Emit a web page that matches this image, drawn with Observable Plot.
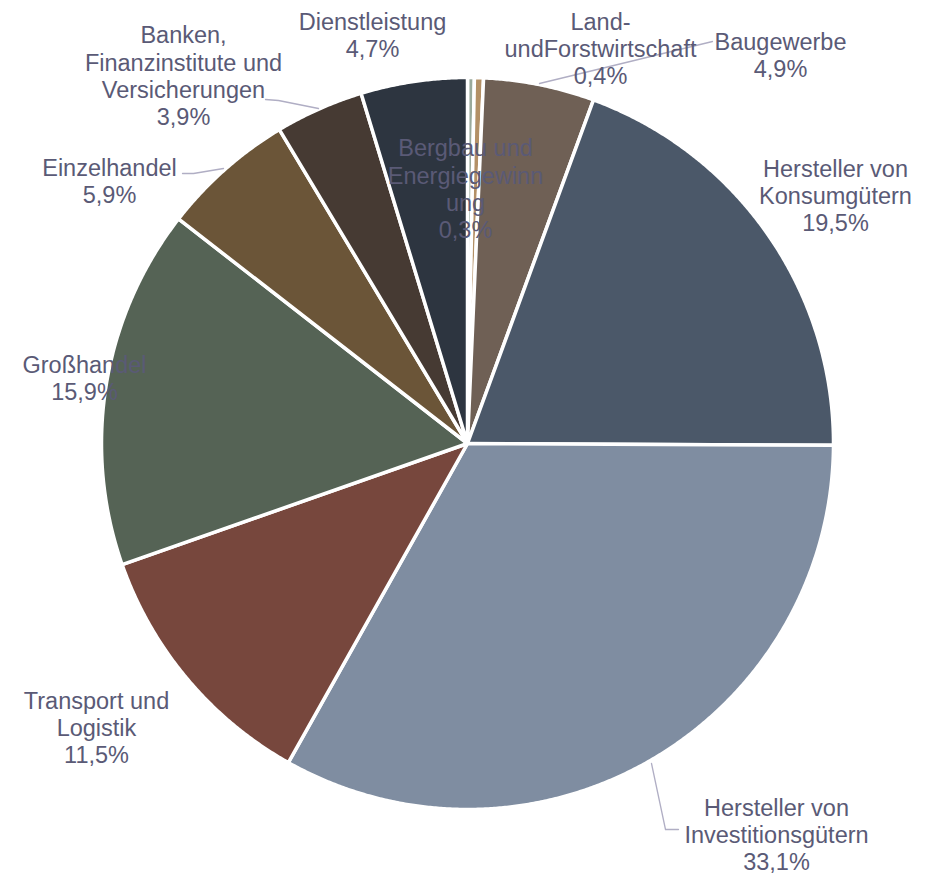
<!DOCTYPE html>
<html>
<head>
<meta charset="utf-8">
<script src="https://cdn.jsdelivr.net/npm/d3@7"></script>
<script src="https://cdn.jsdelivr.net/npm/@observablehq/plot@0.6"></script>
<style>
  html, body { margin: 0; padding: 0; background: #ffffff; }
  #chart { width: 926px; height: 875px; }
</style>
</head>
<body>
<div id="chart"></div>
<script>
// ---- data ----
const categories = [
  "Bergbau und Energiegewinnung",
  "Land- und Forstwirtschaft",
  "Baugewerbe",
  "Hersteller von Konsumgütern",
  "Hersteller von Investitionsgütern",
  "Transport und Logistik",
  "Großhandel",
  "Einzelhandel",
  "Banken, Finanzinstitute und Versicherungen",
  "Dienstleistung"
];
const values = [0.3, 0.4, 4.9, 19.5, 33.1, 11.5, 15.9, 5.9, 3.9, 4.7];
const labelNames = [
  "Bergbau und\nEnergiegewinn\nung",
  "Land-\nundForstwirtschaft",
  "Baugewerbe",
  "Hersteller von\nKonsumgütern",
  "Hersteller von\nInvestitionsgütern",
  "Transport und\nLogistik",
  "Großhandel",
  "Einzelhandel",
  "Banken,\nFinanzinstitute und\nVersicherungen",
  "Dienstleistung"
];
const colors = [
  "#9aaa9c", "#b39066", "#6f6055", "#4b5869", "#7f8da1",
  "#77473d", "#556355", "#6b5538", "#463a33", "#2d3540"
];

// ---- layout ----
const W = 926, H = 875;
const cx = 467, cy = 443, R = 366;
const labelX = [465, 600, 780, 835, 776, 96, 84, 109, 183, 372];
const labelY = [188, 48, 54, 195, 834, 727, 377, 180, 75, 34];
const leaders = [
  { slice: 2, pts: [[539, 83], [712, 41]] },
  { slice: 4, pts: [[651, 763], [665, 829], [678, 829]] },
  { slice: 7, pts: [[223, 168], [193, 173], [182, 173]] },
  { slice: 8, pts: [[318, 108], [278, 100], [265, 99]] }
];
const textColor = "#5a5a76";
const leaderColor = "#b0aec4";

const fmt = v => d3.format(".1f")(v).replace(".", ",") + "%";

// ---- geometry from values ----
const arcs = d3.pie().sort(null).value(d => d)(values);
const slices = arcs.map((a, i) => {
  const pts = [{ x: cx, y: cy }];
  const n = Math.max(2, Math.ceil((a.endAngle - a.startAngle) / 0.005));
  for (let k = 0; k <= n; k++) {
    const t = a.startAngle + (a.endAngle - a.startAngle) * k / n;
    pts.push({ x: cx + R * Math.sin(t), y: cy - R * Math.cos(t) });
  }
  pts.push({ x: cx, y: cy });
  return { name: categories[i], color: colors[i], pts };
});

const labels = values.map((v, i) => ({
  x: labelX[i], y: labelY[i], text: labelNames[i] + "\n" + fmt(v)
}));

const leaderData = leaders.flatMap((l, j) => l.pts.map(p => ({ id: j, x: p[0], y: p[1] })));

const chart = Plot.plot({
  width: W,
  height: H,
  margin: 0,
  x: { domain: [0, W], range: [0, W], axis: null },
  y: { domain: [0, H], range: [0, H], axis: null },
  style: { fontFamily: "'Liberation Sans', Arial, sans-serif", background: "#ffffff" },
  marks: [
    ...slices.map(s => Plot.line(s.pts, {
      x: "x", y: "y", fill: s.color, stroke: "#ffffff",
      strokeWidth: 3.5, strokeLinejoin: "round", curve: "linear"
    })),
    Plot.line(leaderData, { x: "x", y: "y", z: "id", stroke: leaderColor, strokeWidth: 1.3 }),
    Plot.text(labels, {
      x: "x", y: "y", text: "text", fill: textColor,
      fontSize: 23.5, lineHeight: 1.16, textAnchor: "middle", lineAnchor: "middle"
    })
  ]
});
document.getElementById("chart").appendChild(chart);
</script>
</body>
</html>
